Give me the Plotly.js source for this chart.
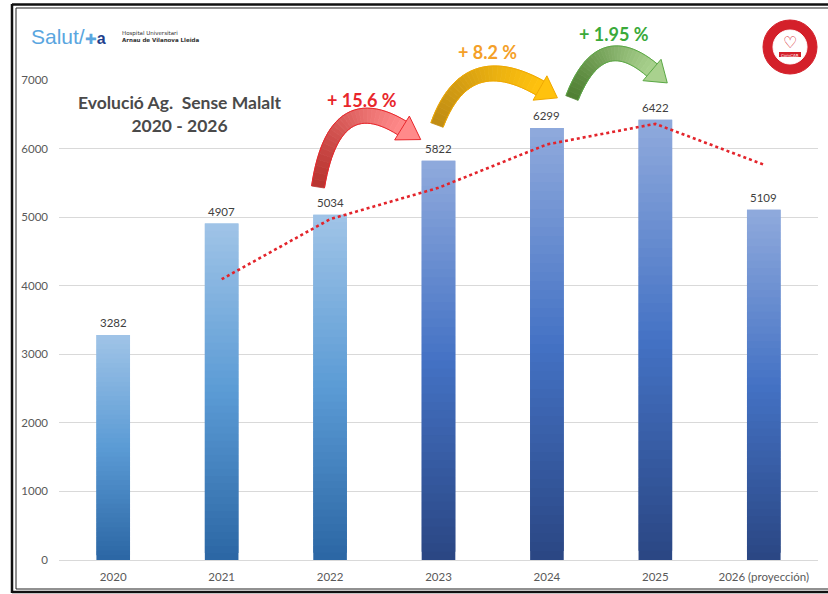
<!DOCTYPE html>
<html>
<head>
<meta charset="utf-8">
<script src="https://cdn.plot.ly/plotly-3.0.1.min.js"></script>
<style>
  html, body { margin: 0; padding: 0; background: #ffffff; }
  #chart { width: 828px; height: 594px; }
</style>
</head>
<body>
<div id="chart"></div>
<script>
// ---------------- DATA ----------------
const categories = ['2020', '2021', '2022', '2023', '2024', '2025', '2026 (proyección)'];
const values = [3282, 4907, 5034, 5822, 6299, 6422, 5109];
// dotted trend line (2-period moving average)
const trendCategories = ['2021', '2022', '2023', '2024', '2025', '2026 (proyección)'];
const trendValues = [4094.5, 4970.5, 5428, 6060.5, 6360.5, 5765.5];
const growthLabels = ['+ 15.6 %', '+ 8.2 %', '+ 1.95 %'];
const yTickValues = [0, 1000, 2000, 3000, 4000, 5000, 6000, 7000];
const chartTitle = 'Evolució Ag.\u00a0\u00a0Sense Malalt<br>2020 - 2026';

// ---------------- STYLE ----------------
const W = 828, H = 594;
const M = { l: 59, r: 10, t: 80, b: 34 };
const plotW = W - M.l - M.r, plotH = H - M.t - M.b;
const FONT = 'Lato, "Open Sans", sans-serif';

// colour palettes (bottom, middle, top) per bar
const paletteLight = ['#2b66a4', '#5b9bd5', '#a0c4e7'];
const paletteDark  = ['#2a4683', '#4472c4', '#90aadc'];
const barPalette = [paletteLight, paletteLight, paletteLight, paletteDark, paletteDark, paletteDark, paletteDark];

function hex2rgb(h) { return [parseInt(h.slice(1,3),16), parseInt(h.slice(3,5),16), parseInt(h.slice(5,7),16)]; }
function mix(a, b, t) {
  const A = hex2rgb(a), B = hex2rgb(b);
  return 'rgb(' + A.map((v, i) => Math.round(v + (B[i] - v) * t)).join(',') + ')';
}
function grad(p, f) { return f < 0.5 ? mix(p[0], p[1], f / 0.5) : mix(p[1], p[2], (f - 0.5) / 0.5); }

// ---------------- BARS (vertical gradient via overlapping slices) ----------------
const SLICES = 48;
const traces = [];
for (let k = 0; k < SLICES; k++) {
  const f = (k + 0.5) / SLICES;
  const cols = barPalette.map(p => grad(p, f));
  const h = (k === SLICES - 1) ? 1 : 2;   // slices overlap the next one to hide seams
  traces.push({
    type: 'bar',
    x: categories,
    y: values.map(v => v * h / SLICES),
    base: values.map(v => v * k / SLICES),
    width: 0.31,
    marker: { color: cols, line: { width: 0 } },
    hoverinfo: 'skip',
    showlegend: false
  });
}
traces.push({
  type: 'scatter',
  mode: 'lines',
  x: trendCategories,
  y: trendValues,
  line: { color: '#e3242b', width: 2.6, dash: 'dot' },
  hoverinfo: 'skip',
  showlegend: false
});

// ---------------- helpers for decorations ----------------
const px = x => (x - M.l) / plotW;
const py = y => (H - M.b - y) / plotH;
function P(x, y) { return px(x).toFixed(5) + ',' + py(y).toFixed(5); }

const shapes = [];
function curvedArrow(P0, C, P1, w0, w1, hw, L, c0, c1, edge) {
  const N = 28;
  const pts = [];
  for (let i = 0; i <= N; i++) {
    const t = i / N;
    const bx = (1-t)*(1-t)*P0[0] + 2*t*(1-t)*C[0] + t*t*P1[0];
    const by = (1-t)*(1-t)*P0[1] + 2*t*(1-t)*C[1] + t*t*P1[1];
    const tx = 2*(1-t)*(C[0]-P0[0]) + 2*t*(P1[0]-C[0]);
    const ty = 2*(1-t)*(C[1]-P0[1]) + 2*t*(P1[1]-C[1]);
    const n = Math.hypot(tx, ty);
    const nx = -ty / n, ny = tx / n;
    const w = w0 + (w1 - w0) * t;
    pts.push({ l: [bx + nx*w, by + ny*w], r: [bx - nx*w, by - ny*w], c: [bx, by], d: [tx/n, ty/n], n: [nx, ny] });
  }
  for (let i = 0; i < N; i++) {
    const a = pts[i], b = pts[i+1];
    const col = mix(c0, c1, (i + 0.5) / N);
    shapes.push({
      type: 'path', xref: 'paper', yref: 'paper',
      path: 'M' + P(a.l[0], a.l[1]) + ' L' + P(b.l[0], b.l[1]) + ' L' + P(b.r[0], b.r[1]) + ' L' + P(a.r[0], a.r[1]) + ' Z',
      fillcolor: col, line: { color: col, width: 0.8 }
    });
  }
  let outline = 'M' + P(pts[0].l[0], pts[0].l[1]);
  for (let i = 1; i <= N; i++) outline += ' L' + P(pts[i].l[0], pts[i].l[1]);
  let outline2 = 'M' + P(pts[0].r[0], pts[0].r[1]);
  for (let i = 1; i <= N; i++) outline2 += ' L' + P(pts[i].r[0], pts[i].r[1]);
  shapes.push({ type: 'path', xref: 'paper', yref: 'paper', path: outline, line: { color: edge, width: 1 } });
  shapes.push({ type: 'path', xref: 'paper', yref: 'paper', path: outline2, line: { color: edge, width: 1 } });
  const e = pts[N];
  const hl = [e.c[0] + e.n[0]*hw, e.c[1] + e.n[1]*hw];
  const hr = [e.c[0] - e.n[0]*hw, e.c[1] - e.n[1]*hw];
  const tip = [e.c[0] + e.d[0]*L, e.c[1] + e.d[1]*L];
  shapes.push({
    type: 'path', xref: 'paper', yref: 'paper',
    path: 'M' + P(hl[0], hl[1]) + ' L' + P(tip[0], tip[1]) + ' L' + P(hr[0], hr[1]) + ' Z',
    fillcolor: c1, line: { color: edge, width: 1 }
  });
}

// red, orange, green growth arrows
curvedArrow([318, 187], [334, 86], [402, 128], 6.5, 8, 14, 22, '#b8332f', '#ff8a8a', '#e8262b');
curvedArrow([437, 125], [466, 46], [540, 88], 6.5, 8, 14, 20, '#c08c14', '#ffc20e', '#f0a800');
curvedArrow([572, 98], [600, 26], [652, 70], 6.5, 8, 14, 20, '#4f7f32', '#a9d18e', '#5aa845');

// frame (double border)
shapes.push({ type: 'line', xref: 'paper', yref: 'paper', x0: px(12), x1: px(12), y0: py(4), y1: py(593), line: { color: '#111', width: 2.5 } });
shapes.push({ type: 'line', xref: 'paper', yref: 'paper', x0: px(12), x1: px(840), y0: py(4.5), y1: py(4.5), line: { color: '#111', width: 2.5 } });
shapes.push({ type: 'line', xref: 'paper', yref: 'paper', x0: px(12), x1: px(840), y0: py(592), y1: py(592), line: { color: '#111', width: 2.5 } });
shapes.push({ type: 'line', xref: 'paper', yref: 'paper', x0: px(16), x1: px(16), y0: py(8), y1: py(589), line: { color: '#222', width: 1 } });
shapes.push({ type: 'line', xref: 'paper', yref: 'paper', x0: px(16), x1: px(840), y0: py(8), y1: py(8), line: { color: '#222', width: 1 } });
shapes.push({ type: 'line', xref: 'paper', yref: 'paper', x0: px(16), x1: px(840), y0: py(589), y1: py(589), line: { color: '#222', width: 1 } });

// right logo (CARDIO · PRIMÀRIA badge)
shapes.push({ type: 'circle', xref: 'paper', yref: 'paper', x0: px(763), x1: px(817), y0: py(20), y1: py(74), fillcolor: '#d4202a', line: { color: '#d4202a', width: 1 } });
shapes.push({ type: 'circle', xref: 'paper', yref: 'paper', x0: px(773), x1: px(807), y0: py(30), y1: py(64), fillcolor: '#ffffff', line: { color: '#ffffff', width: 1 } });
shapes.push({ type: 'rect', xref: 'paper', yref: 'paper', x0: px(779), x1: px(801), y0: py(52), y1: py(57), fillcolor: '#d4202a', line: { width: 0 } });

// ---------------- ANNOTATIONS ----------------
const annotations = [];
values.forEach((v, i) => {
  annotations.push({
    x: i, y: v, xref: 'x', yref: 'y', text: String(v),
    showarrow: false, yanchor: 'bottom', yshift: 4,
    font: { family: FONT, size: 11.5, color: '#404040' }
  });
});
annotations.push({
  xref: 'paper', yref: 'paper', x: px(179), y: py(114), text: chartTitle,
  showarrow: false, xanchor: 'center', yanchor: 'middle',
  font: { family: FONT, size: 17.5, color: '#4a4a4a', weight: 'bold' }
});
const growthPos = [[362, 100, '#e8262b'], [488, 52, '#f4a028'], [614, 34, '#3aaa3a']];
growthLabels.forEach((t, i) => {
  annotations.push({
    xref: 'paper', yref: 'paper', x: px(growthPos[i][0]), y: py(growthPos[i][1]), text: t,
    showarrow: false, xanchor: 'center', yanchor: 'middle',
    font: { family: FONT, size: 18, color: growthPos[i][2], weight: 'bold' }
  });
});
// left logo
annotations.push({
  xref: 'paper', yref: 'paper', x: px(29), y: py(37),
  text: 'Salut/<span style="font-size:14px;color:#5aa6df">✚</span><span style="font-size:16px;color:#1f3f8c"><b>a</b></span>',
  showarrow: false, xanchor: 'left', yanchor: 'middle',
  font: { family: '"Liberation Sans", Arial, sans-serif', size: 21, color: '#5aa6df' }
});
annotations.push({
  xref: 'paper', yref: 'paper', x: px(120), y: py(37),
  text: 'Hospital Universitari<br><b>Arnau de Vilanova Lleida</b>',
  showarrow: false, xanchor: 'left', yanchor: 'middle', align: 'left',
  font: { family: 'DejaVu Sans', size: 5.5, color: '#333333' }
});
// right logo text
annotations.push({ xref: 'paper', yref: 'paper', x: px(790), y: py(43), text: '♡', showarrow: false, xanchor: 'center', yanchor: 'middle', font: { family: 'DejaVu Sans', size: 16, color: '#d4202a' } });
annotations.push({ xref: 'paper', yref: 'paper', x: px(790), y: py(55), text: 'ComCAR', showarrow: false, xanchor: 'center', yanchor: 'middle', font: { family: 'DejaVu Sans', size: 4, color: '#ffffff' } });

// ---------------- LAYOUT ----------------
const layout = {
  width: W, height: H,
  margin: M,
  paper_bgcolor: '#ffffff', plot_bgcolor: '#ffffff',
  barmode: 'overlay',
  showlegend: false,
  font: { family: FONT, color: '#595959', size: 11 },
  xaxis: {
    type: 'category', categoryorder: 'array', categoryarray: categories,
    range: [-0.5, categories.length - 0.5], autorange: false,
    showgrid: false, showline: false, zeroline: false, ticks: '',
    tickfont: { family: FONT, size: 11.5, color: '#595959' },
    ticklabelstandoff: 8, fixedrange: true
  },
  yaxis: {
    range: [0, 7000], autorange: false, tickvals: yTickValues, ticktext: yTickValues.map(String),
    showgrid: true, gridcolor: '#d9d9d9', gridwidth: 1,
    zeroline: true, zerolinecolor: '#d9d9d9', zerolinewidth: 1,
    showline: false, ticks: '',
    tickfont: { family: FONT, size: 11.5, color: '#595959' },
    ticklabelstandoff: 10, fixedrange: true
  },
  shapes: shapes,
  annotations: annotations
};

Plotly.newPlot('chart', traces, layout, { staticPlot: true, displayModeBar: false });
</script>
</body>
</html>
